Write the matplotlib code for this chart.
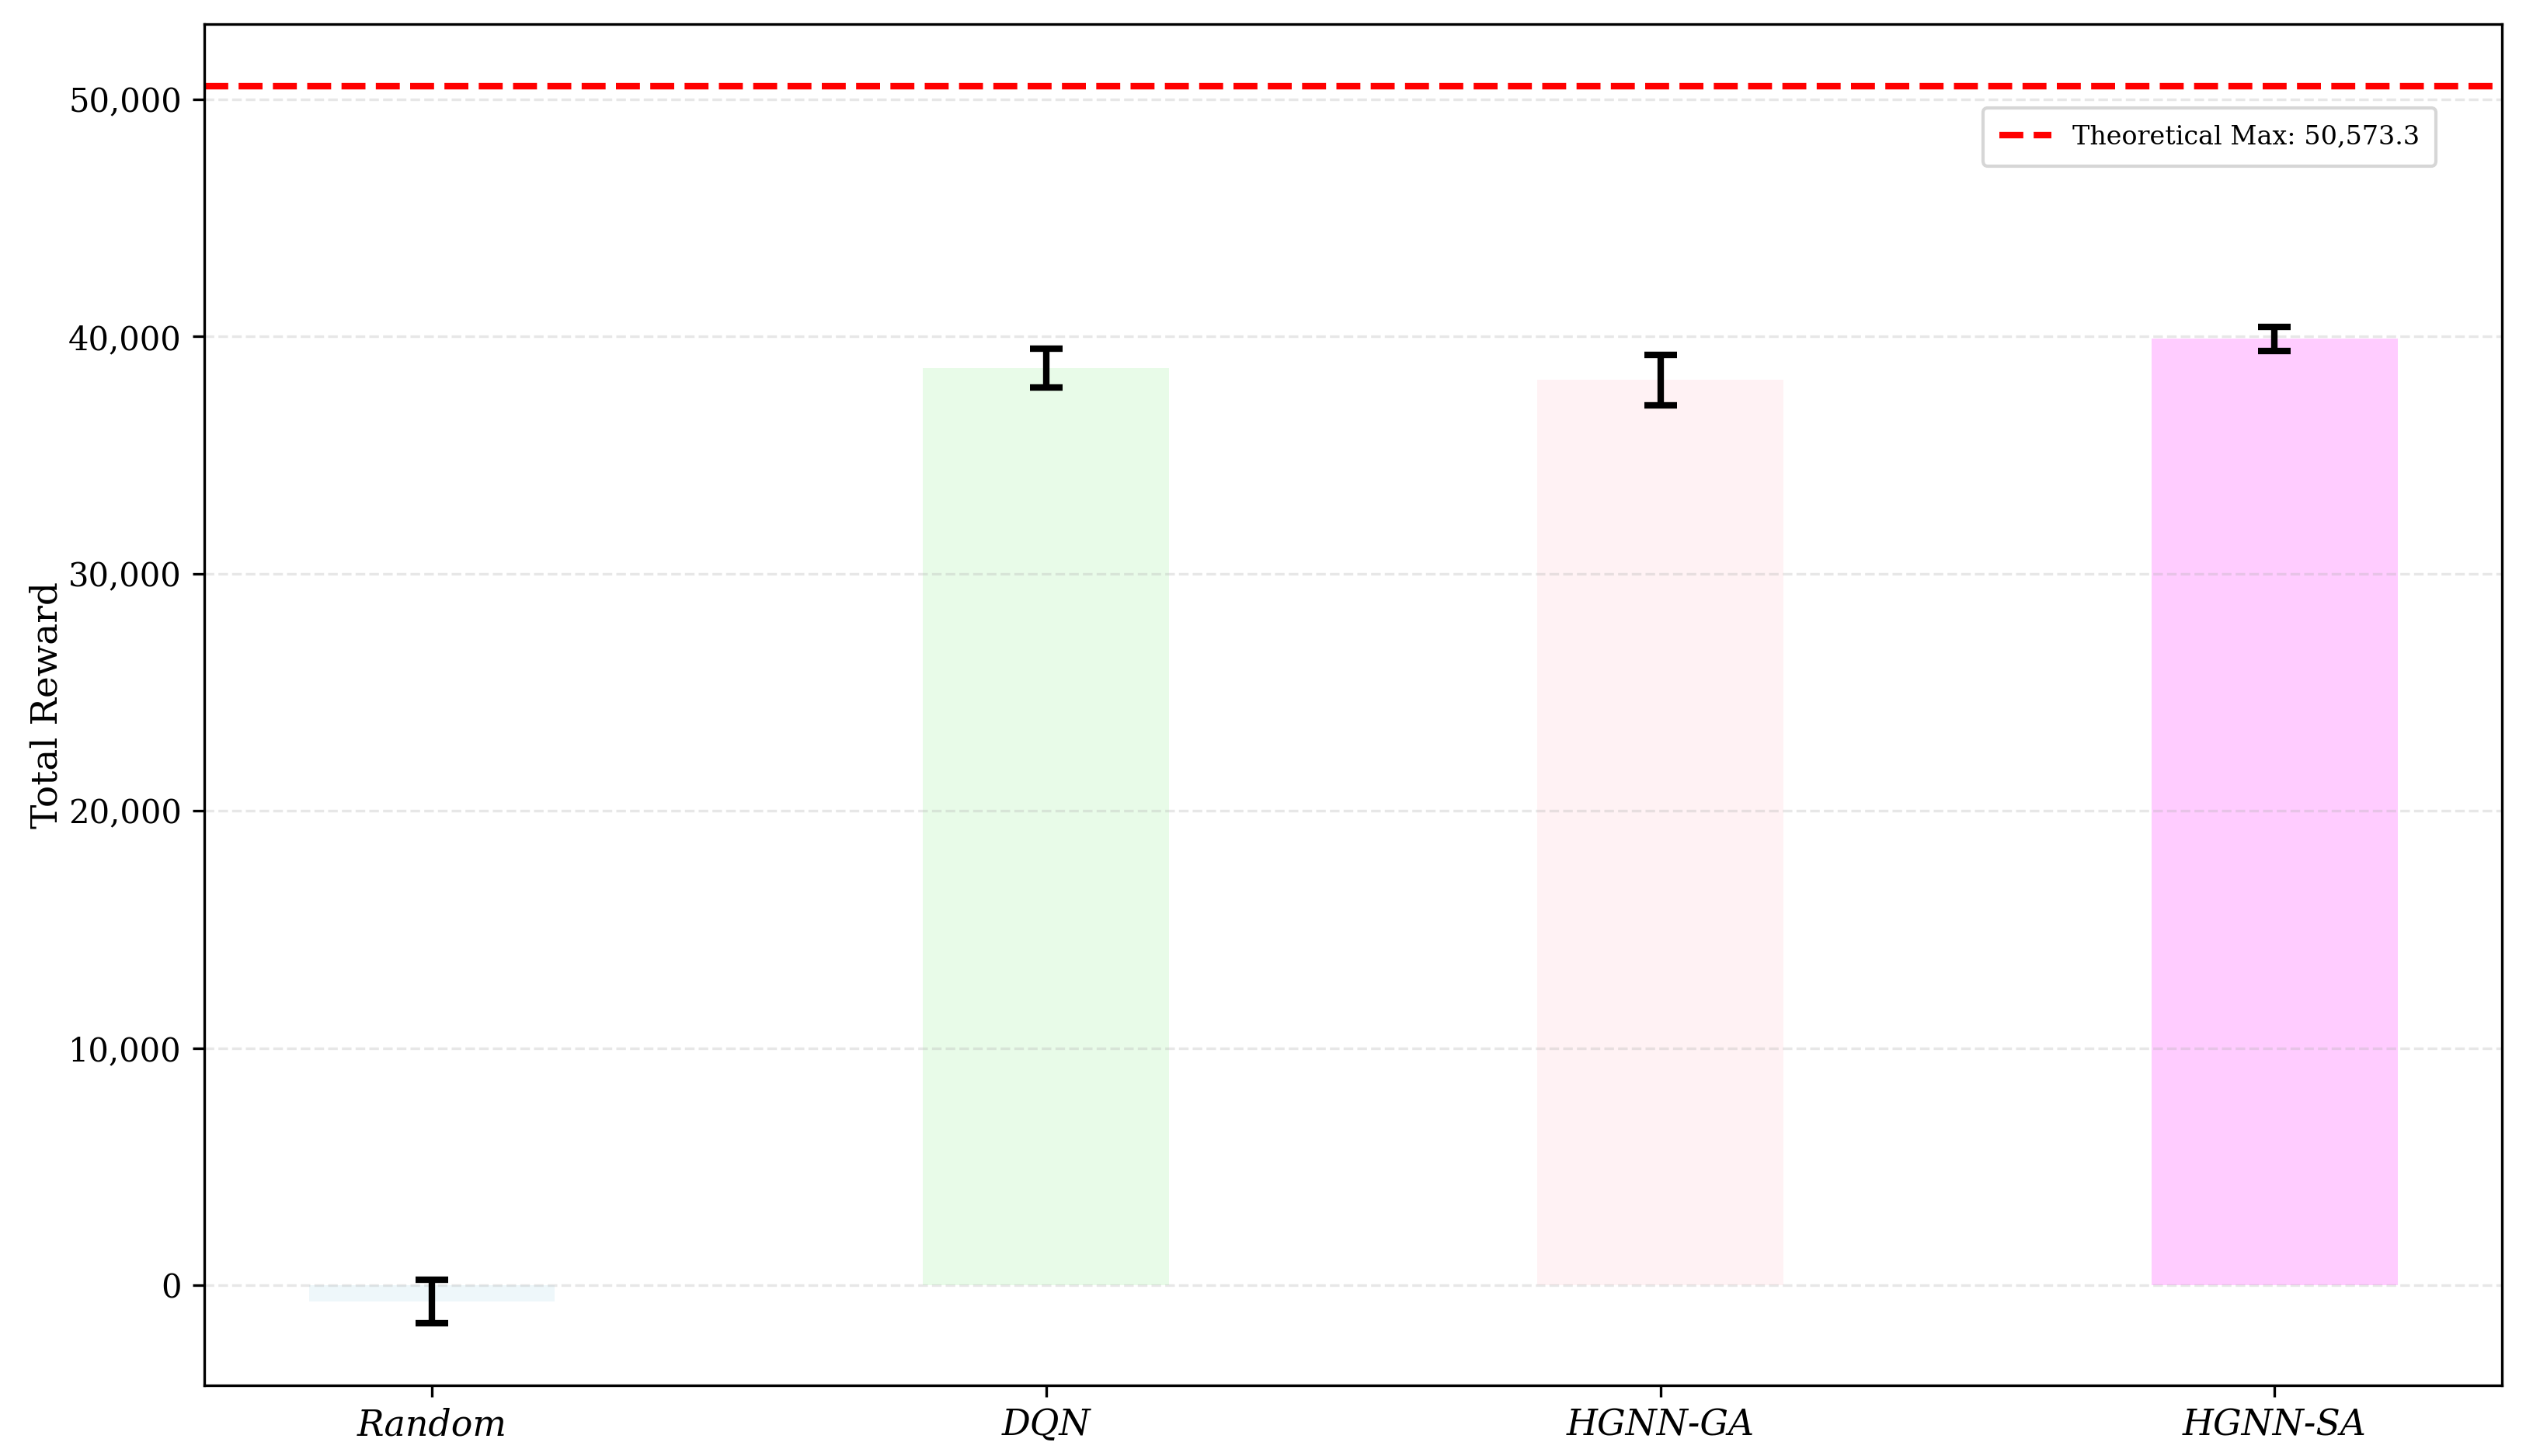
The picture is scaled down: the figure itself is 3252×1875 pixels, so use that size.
import matplotlib
matplotlib.use('Agg')
import matplotlib.pyplot as plt
from matplotlib.ticker import FuncFormatter

plt.rcParams['font.family'] = ['DejaVu Serif']

# values
methods = ['Random', 'DQN', 'HGNN-GA', 'HGNN-SA']
mean_reward = [-690, 38670, 38180, 39910]
std_reward = [930, 810, 1065, 510]
bar_colors = ['lightblue', 'lightgreen', 'pink', 'magenta']
theoretical_max = 50573.3

fig = plt.figure(figsize=(10.84, 6.25), dpi=300)
ax = fig.add_axes([0.0809, 0.0485, 0.9096, 0.935])

x = range(len(methods))
ax.bar(x, mean_reward, width=0.4, color=bar_colors, alpha=0.2,
       yerr=std_reward, capsize=5,
       error_kw=dict(elinewidth=2, capthick=2, ecolor='black'))
ax.axhline(theoretical_max, color='red', linestyle='--', linewidth=2,
           label=f'Theoretical Max: {theoretical_max:,.1f}')

ax.set_xticks(list(x))
ax.set_xticklabels(methods, fontsize=11, style='italic')
ax.set_ylabel('Total Reward', fontsize=11.3, labelpad=1)
ax.tick_params(axis='y', labelsize=10)
ax.yaxis.set_major_formatter(FuncFormatter(lambda v, p: f'{v:,.0f}'))
ax.grid(axis='y', linestyle='--', alpha=0.3)
ax.legend(loc='upper right', bbox_to_anchor=(0.977, 0.948), fontsize=8,
          borderpad=0.65)

plt.savefig('out.png', dpi=300)
